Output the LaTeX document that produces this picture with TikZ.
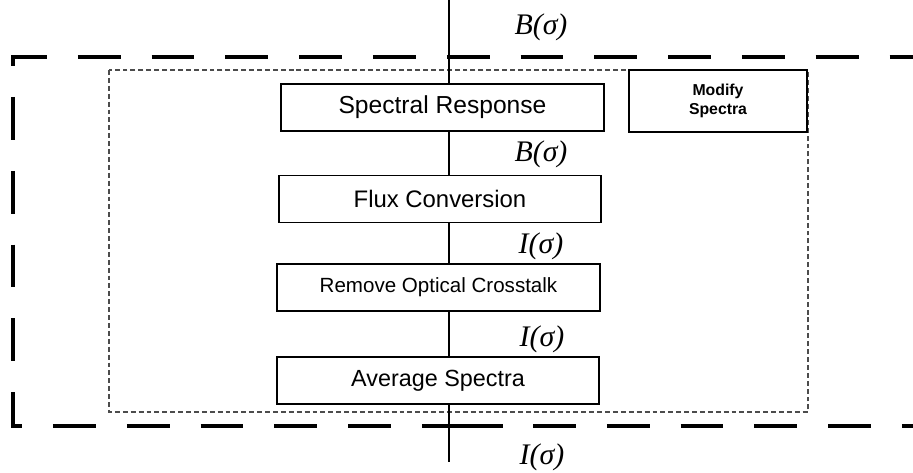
\documentclass[tikz,border=0pt]{standalone}
\usepackage{fontspec}
\setmainfont{Liberation Sans}
\newfontfamily\lblfont{Liberation Serif}

\tikzset{
  stage/.style={draw, line width=1.1pt, fill=white, minimum width=6.45cm,
    minimum height=0.94cm, inner sep=0pt, font=\fontsize{13.6}{16}\selectfont},
  sig/.style={font=\fontsize{17}{19}\selectfont\lblfont\itshape},
  bigdash/.style={line width=2.3pt, dash pattern=on 24.4pt off 17.6pt},
  smalldash/.style={black!70, line width=0.6pt, dash pattern=on 2.8pt off 1.7pt},
}

\begin{document}
\begin{tikzpicture}[x=0.02cm, y=-0.02cm]
\useasboundingbox (0,0) rectangle (913,473);

% Outer boundary (thick dashes)
\draw[bigdash] (13,66) -- (13,57) -- (913,57);
\draw[bigdash] (13,97) -- (13,426) -- (503,426);
\draw[line width=2.3pt] (424,426) -- (503,426);
\draw[bigdash] (533,426) -- (913,426);

% Inner boundary (thin dashes)
\draw[smalldash] (109,70) rectangle (808,412);

% Signal line
\coordinate (in) at (449,0);
\coordinate (out) at (449,462);
\draw[line width=0.6pt] (in) -- (out);

% Processing stages
\node[stage, font=\fontsize{14}{16}\selectfont] (resp) at (442.5,107.5) {Spectral Response};
\node[stage] (flux) at (440,199) {Flux Conversion};
\node[stage, font=\fontsize{11.7}{14}\selectfont] (xtalk) at (438.5,287.5) {Remove Optical Crosstalk};
\node[stage, font=\fontsize{13.3}{16}\selectfont] (avg) at (438,380.5) {Average Spectra};

% Side box
\node[draw, line width=0.6pt, fill=white, minimum width=3.56cm, minimum height=1.24cm,
  inner sep=0pt, align=center, font=\fontsize{9}{10.5}\selectfont\bfseries] (modify) at (718,101) {Modify\\Spectra};

% Signal labels
\node[sig] (bin) at (541,27) {B(σ)};
\node[sig] (bresp) at (541,154) {B(σ)};
\node[sig] (iflux) at (541,246) {I(σ)};
\node[sig] (ixtalk) at (542,339) {I(σ)};
\node[sig] (iout) at (542,457) {I(σ)};

\end{tikzpicture}
\end{document}
